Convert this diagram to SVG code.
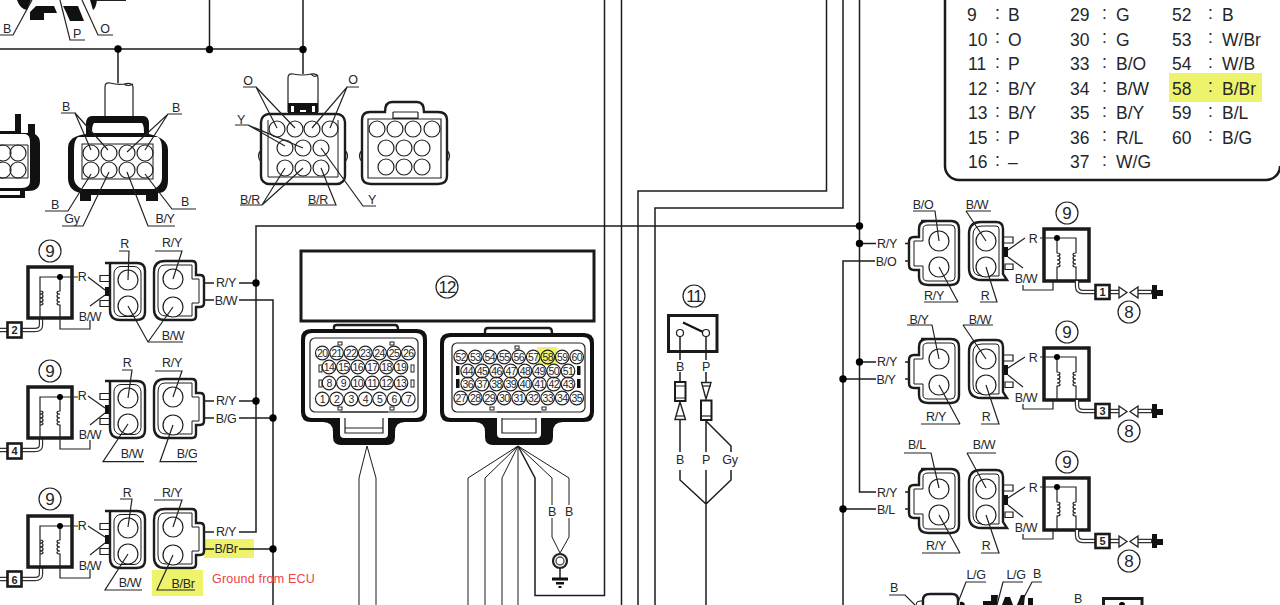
<svg xmlns="http://www.w3.org/2000/svg" xmlns:xlink="http://www.w3.org/1999/xlink" width="1280" height="605" viewBox="0 0 1280 605">
<style>
text{font-family:"Liberation Sans",Arial,sans-serif;fill:#26262a}
.l{font-size:12.5px;text-anchor:middle;letter-spacing:-.3px}
.c{font-size:17px;text-anchor:middle}
.n{font-size:11px;text-anchor:middle;font-weight:bold}
.p{font-size:10.5px;text-anchor:middle;letter-spacing:-.6px}
.tb{font-size:17.5px}
.w{fill:none;stroke:#1c1c1c;stroke-width:1.5}
.th{fill:none;stroke:#1c1c1c;stroke-width:1}
.t{fill:none;stroke:#222;stroke-width:1.2}
.b{fill:none;stroke:#1c1c1c;stroke-width:2.4}
.k{fill:#111;stroke:none}
.f{fill:#fff;stroke:#1c1c1c;stroke-width:1.2}
.bx{fill:#fff;stroke:#1a1a1a;stroke-width:3.5}
.sq{fill:#fff;stroke:#1a1a1a;stroke-width:2.6}
.d{fill:#000}
.hl{fill:#eef36c}
.dw{fill:none;stroke:#333;stroke-width:4.4}
.dwi{fill:none;stroke:#fff;stroke-width:2}
</style>
<defs>
<g id="coil">
<path class="t" stroke-width="1.4" d="M40,318V291c4,0 4,3 0,3c4,0 4,4 0,4c4,0 4,4 0,4c4,0 4,3 0,3M40,291V277H78M60,277V291c-4,0 -4,3 0,3c-4,0 -4,4 0,4c-4,0 -4,4 0,4c-4,0 -4,3 0,3V329H90V320"/>
<circle class="d" cx="60" cy="277" r="3"/>
</g>
<g id="lConn">
<path class="f" d="M100,275.500h10v6h-10zM100,300.500h10v6h-10z" stroke-width="1.8"/>
<rect class="k" x="105" y="287" width="6" height="9"/>
<path class="b" d="M105,263H137Q145,263 145,271V312Q145,320 137,320H120Q110,320 110,310V263"/>
<rect class="th" x="114" y="266.500" width="27" height="50" rx="7"/>
<circle class="f" cx="128" cy="280" r="10"/><circle class="f" cx="128" cy="306" r="10"/>
<path class="b" d="M165,261H192Q196,261 196,265V275H200Q204,275 204,279V303Q204,307 200,307H196V316Q196,320 192,320H165Q154,320 154,309V272Q154,261 165,261Z"/>
<path class="th" d="M165,265H192V279H199V303H192V316H166Q158,316 158,307V274Q158,265 165,265Z"/>
<circle class="f" cx="173" cy="279" r="10"/><circle class="f" cx="173" cy="307" r="10"/>
</g>
<g id="dbl">
<path class="dw" d="M41,318V325Q41,330 35,330H21M0,330H7"/>
<path class="dwi" d="M41,318V325Q41,330 35,330H21M0,330H7"/>
</g>
<g id="rConn">
<path class="b" d="M921,221H951Q959,221 959,229V277Q959,285 951,285H928Q919,285 919,277V270H914Q909,270 909,265V242Q909,237 914,237H919V229Q919,221 927,221Z"/>
<path class="th" d="M928,225H951Q955,225 955,229V277Q955,281 951,281H928Q923,281 923,277V266H914V241H923V229Q923,225 928,225Z"/>
<circle class="f" cx="939" cy="241" r="10"/><circle class="f" cx="939" cy="267" r="10"/>
<path class="f" d="M1003,237h10v6h-10zM1005,264h8v5.500h-8z" stroke-width="1.8"/>
<rect class="k" x="1002" y="247" width="6" height="10"/>
<path class="b" d="M981,222H996Q1003,222 1003,229V274L1007,280H981Q969,280 969,268V234Q969,222 981,222Z"/>
<path class="th" d="M982,226H996Q999,226 999,229V276H982Q973,276 973,267V235Q973,226 982,226Z"/>
<circle class="f" cx="986" cy="241" r="10"/><circle class="f" cx="986" cy="267" r="10"/>
</g>
<g id="rCoil">
<rect class="bx" x="1044" y="229" width="45" height="52"/>
<path class="t" d="M1040,238H1076V253c-4,0 -4,3 0,3c-4,0 -4,4 0,4c-4,0 -4,4 0,4c-4,0 -4,3 0,3V281M1057,238V253c4,0 4,3 0,3c4,0 4,4 0,4c4,0 4,4 0,4c4,0 4,3 0,3V281M1053,281V290H1023V285"/>
<circle class="d" cx="1057" cy="238" r="3"/>
<path class="dw" d="M1077,281V286Q1077,292 1083,292H1096M1110,292H1121M1136,292H1152"/>
<path class="dwi" d="M1077,281V286Q1077,292 1083,292H1096M1110,292H1121M1136,292H1151"/>
<path d="M1119,287L1127,292.500L1119,298ZM1138,287L1130,292.500L1138,298Z" fill="#fff" stroke="#222" stroke-width="1.3"/>
<path class="k" d="M1152,285h5v5h6v6h-6v3h-5z"/>
<circle cx="1129" cy="312" r="11" fill="#fff" stroke="#222" stroke-width="1.2"/>
<text class="c" x="1129" y="318">8</text>
<circle cx="1067" cy="213" r="11" fill="#fff" stroke="#222" stroke-width="1.2"/>
<text class="c" x="1067" y="219">9</text>
</g>
</defs>

<rect id="hl-table" class="hl" x="1169" y="73" width="93" height="29"/>
<rect id="hl-pin58" class="hl" x="537" y="347" width="20" height="18"/>
<rect id="hl-wire" class="hl" x="204" y="539" width="50" height="19"/>
<rect id="hl-label" class="hl" x="152" y="570" width="51" height="26"/>

<g id="connectors">
<path class="w" d="M0,49H303M118,49V83M209.500,0V49M303,0V49V74"/>
<path class="w" d="M204,283H214M239,283H256M204,300H214M239,300H273V605"/>
<path class="w" d="M204,401H214M239,401H256M204,418H214M239,418H273"/>
<path class="w" d="M204,532H214M239,532H256V226H859M204,549H214M239,549H273"/>
<path class="w" d="M604.500,0V595.500H535V478L518,446M621.500,0V605M638,605V191H826.500V0M655,605V208H843V0M859.500,0V492H876M859.500,243.500H876M859.500,362H876M843,605V261H875M843,379H876M843,509H876"/>
<path class="th" d="M367,446L359,478V605M367,446L376,478V605M518,446L468,478V605M518,446L485,478V605M518,446L502,478V605M518,446V605M518,446L552,478V505M518,446L569,478V505M552,518V537L560,553M569,518V537L560,553"/>
<path class="w" d="M680,336V360M680,372V382M680,420V452M680,470V480L706,504M706,336V360M706,372V382M706,420V452M706,470V605M706,421L731,446V452M731,470V480L706,504"/>
<path class="w" d="M905,243.500H909M905,261H909M905,362H909M905,379H909M905,492H909M905,509H909"/>
</g>
<g id="junctions">
<circle class="d" cx="118" cy="49" r="3.700"/><circle class="d" cx="209.500" cy="49.500" r="3.700"/><circle class="d" cx="303" cy="49.500" r="3.700"/>
<circle class="d" cx="256" cy="283" r="3.700"/><circle class="d" cx="256" cy="401" r="3.700"/><circle class="d" cx="273" cy="418" r="3.700"/><circle class="d" cx="273" cy="549" r="3.700"/>
<circle class="d" cx="859.500" cy="226" r="3.700"/><circle class="d" cx="859.500" cy="243.500" r="3.700"/><circle class="d" cx="859.500" cy="362" r="3.700"/><circle class="d" cx="843" cy="379" r="3.700"/><circle class="d" cx="843" cy="509" r="3.700"/>
</g>

<g id="top-partial">
<path class="k" d="M17,0H31L27,10Q20,9 17,0ZM30,21V12L36,6H54L57,13H44V20H30ZM63,6H78L84,21H70L66,12ZM90,0H97Q96,8 93,10Z"/>
<path class="t" d="M96,0.500H126M0,35H13L32,0M60,0L70,40H85M82,0L98,35H113"/>
<text class="l" x="7" y="33">B</text><text class="l" x="77" y="38">P</text><text class="l" x="105" y="33">O</text>
</g>

<g id="conn-partial-left">
<path class="k" d="M15,114h6v19h7v-9h7v10q5,3 5,9v38q0,10 -12,10h-3v7h-25v-3h20v-4h-20v-3h22q8,0 8,-7v-40q0,-6 -5,-7h-25v-3h15z"/>
<path class="th" d="M0,145H28V178H0"/>
<g class="t"><circle cx="3" cy="153" r="8"/><circle cx="18" cy="153" r="8"/><circle cx="3" cy="170" r="8"/><circle cx="18" cy="170" r="8"/></g>
</g>

<g id="conn-a">
<path class="t" fill="none" d="M105,116V87Q105,82 110,83Q118,85 124,84Q133,82 133,87V116M124,84Q128,87 133,84"/>
<path class="k" d="M92,116H143Q149,116 149,124V134Q168,138 168,150V180Q168,193 158,193V201H146V195H91V201H80V193Q68,190 68,178V148Q68,136 86,134V124Q86,116 92,116ZM94,123Q92,125 92,133H144Q144,125 142,123ZM78,137Q74,140 74,150V178Q74,185 82,189H154Q162,185 162,178V150Q162,140 158,137Z"/>
<rect class="th" x="82" y="144" width="71" height="35"/>
<g class="t"><circle cx="91" cy="153" r="8"/><circle cx="109" cy="153" r="8"/><circle cx="127" cy="153" r="8"/><circle cx="145" cy="153" r="8"/><circle cx="91" cy="170" r="8"/><circle cx="109" cy="170" r="8"/><circle cx="127" cy="170" r="8"/><circle cx="145" cy="170" r="8"/></g>
<path class="t" d="M61,113H75L91,150M75,113L108,150M182,114H168L127,152M168,114L145,150M45,211H68L91,174M62,226H83L109,172M175,226H148L127,172M196,209H172L145,174"/>
<text class="l" x="66" y="111">B</text><text class="l" x="176" y="112">B</text><text class="l" x="55" y="209">B</text><text class="l" x="72" y="223">Gy</text><text class="l" x="165" y="223">B/Y</text><text class="l" x="185" y="206">B</text>
</g>

<g id="conn-b">
<path class="t" d="M288,112V78Q288,73 293,74Q303,76 311,74Q318,73 318,78V112M311,74Q314,78 318,75"/>
<path class="k" d="M288,103H318V114H288ZM291,106V112H294V106ZM312,106V112H315V106ZM300,110V112H306V110Z"/>
<rect class="b" x="261" y="114" width="84" height="70" rx="8"/>
<path class="th" d="M268,120V177H338V120"/>
<path class="t" d="M261,150Q256,156 261,162M345,150Q350,156 345,162"/>
<g class="t"><circle cx="277" cy="129" r="8"/><circle cx="295" cy="129" r="8"/><circle cx="312" cy="129" r="8"/><circle cx="330" cy="129" r="8"/><circle cx="285" cy="148" r="8"/><circle cx="303" cy="148" r="8"/><circle cx="321" cy="148" r="8"/><circle cx="285" cy="168" r="8"/><circle cx="303" cy="168" r="8"/><circle cx="321" cy="168" r="8"/></g>
<path class="t" d="M243,87H256L277,128M256,87L295,128M359,87H347L312,128M347,87L330,128M235,125H248L285,146M248,125L303,148M240,205H262L285,168M262,205L303,168M308,205H336L321,168M376,206H363L321,148"/>
<text class="l" x="248" y="85">O</text><text class="l" x="353" y="84">O</text><text class="l" x="241" y="124">Y</text><text class="l" x="250" y="204">B/R</text><text class="l" x="318" y="204">B/R</text><text class="l" x="372" y="204">Y</text>
</g>

<g id="conn-c">
<path class="b" d="M370,112H385Q385,102 392,102H417Q424,102 424,112H438Q447,112 447,120V176Q447,184 438,184H371Q362,184 362,176V120Q362,112 370,112Z"/>
<path class="t" d="M368,119V178H441V119ZM393,112V118H418V112M393,112H418"/>
<path class="t" d="M362,150Q357,156 362,162M447,150Q452,156 447,162"/>
<g class="t"><circle cx="377" cy="129" r="8"/><circle cx="395" cy="129" r="8"/><circle cx="413" cy="129" r="8"/><circle cx="432" cy="129" r="8"/><circle cx="386" cy="148" r="8"/><circle cx="404" cy="148" r="8"/><circle cx="422" cy="148" r="8"/><circle cx="386" cy="167" r="8"/><circle cx="404" cy="167" r="8"/><circle cx="422" cy="167" r="8"/></g>
</g>

<g id="coil-left-1">
<use href="#dbl"/>
<rect class="bx" x="28" y="267" width="44" height="51"/>
<use href="#coil"/><use href="#lConn"/>
<rect class="sq" x="7.500" y="322.500" width="14" height="15"/><text class="n" x="14.500" y="334">2</text>
<circle cx="50" cy="251" r="11" fill="#fff" stroke="#222" stroke-width="1.2"/><text class="c" x="50" y="257">9</text>
<path class="t" d="M88,277L105,290M90,306L105,295M119,251H129L128,280M155,251H182L173,279M128,306L148,342H183M173,307L148,342"/>
<text class="l" x="82" y="281">R</text><text class="l" x="90" y="321">B/W</text><text class="l" x="124.500" y="248">R</text><text class="l" x="172" y="247">R/Y</text><text class="l" x="173" y="340">B/W</text><text class="l" x="226" y="287">R/Y</text><text class="l" x="226" y="305">B/W</text>
</g>

<g id="coil-left-2">
<g transform="translate(0,120)"><use href="#dbl"/><rect class="bx" x="28" y="267" width="44" height="51"/><use href="#coil"/></g>
<use href="#lConn" y="118"/>
<rect class="sq" x="7.500" y="443.500" width="14" height="15"/><text class="n" x="14.500" y="455">4</text>
<circle cx="50" cy="371" r="11" fill="#fff" stroke="#222" stroke-width="1.2"/><text class="c" x="50" y="377">9</text>
<path class="t" d="M88,396L105,408M90,425L105,413M122,370H132L128,398M155,371H182L173,397M128,424L103,461.700H144M173,425L160,461.700H197"/>
<text class="l" x="82" y="400">R</text><text class="l" x="90" y="439">B/W</text><text class="l" x="127" y="367">R</text><text class="l" x="172" y="367">R/Y</text><text class="l" x="132" y="458">B/W</text><text class="l" x="187" y="458">B/G</text><text class="l" x="226" y="405">R/Y</text><text class="l" x="226" y="423">B/G</text>
</g>

<g id="coil-left-3">
<g transform="translate(0,249)"><use href="#dbl"/><rect class="bx" x="28" y="267" width="44" height="51"/><use href="#coil"/></g>
<use href="#lConn" y="248"/>
<rect class="sq" x="7.500" y="571.500" width="14" height="15"/><text class="n" x="14.500" y="584">6</text>
<circle cx="50" cy="499" r="11" fill="#fff" stroke="#222" stroke-width="1.2"/><text class="c" x="50" y="505">9</text>
<path class="t" d="M88,526L105,537M90,555L105,543M120,499H132L128,527M154,500H182L173,527M128,554L105,590H142M173,555L157,590H195"/>
<text class="l" x="82" y="530">R</text><text class="l" x="90" y="570">B/W</text><text class="l" x="127" y="497">R</text><text class="l" x="172" y="497">R/Y</text><text class="l" x="130" y="587">B/W</text><text class="l" x="183" y="588">B/Br</text><text class="l" x="226" y="536">R/Y</text><text class="l" x="226" y="553">B/Br</text>
<text x="212" y="583" font-size="12.500" letter-spacing=".2" style="fill:#f0414a">Ground from ECU</text>
</g>

<g id="ecu">
<rect x="301" y="251" width="293" height="70" fill="#fff" stroke="#1a1a1a" stroke-width="3"/>
<circle cx="447" cy="287" r="11" fill="#fff" stroke="#222" stroke-width="1.2"/><text class="c" x="447" y="293" letter-spacing="-1">12</text>
</g>

<g id="ecu-conn-left">
<path class="b" d="M334,329V327Q334,325 337,325H395Q398,325 398,329"/>
<path class="k" d="M311,329H417Q427,329 427,339V412Q427,422 417,422H405Q395,422 395,432V437Q395,445 387,445H341Q333,445 333,437V432Q333,422 323,422H311Q301,422 301,412V339Q301,329 311,329ZM312,333Q305,333 305,340V411Q305,418 312,418H340V434Q340,438 344,438H384Q388,438 388,434V418H416Q423,418 423,411V340Q423,333 416,333Z"/>
<rect class="t" x="310" y="338" width="108" height="74" rx="5"/>
<path class="t" d="M340,412H388M345,418V433H383V418M345,428H383"/>
<g fill="#fff" stroke="#222"><rect x="319" y="365" width="3" height="7"/><rect x="319" y="380" width="3" height="7"/><rect x="411" y="365" width="3" height="7"/><rect x="411" y="380" width="3" height="7"/><rect x="338" y="342" width="4" height="3"/><rect x="390" y="342" width="4" height="3"/><rect x="338" y="407" width="4" height="3"/><rect x="390" y="407" width="4" height="3"/></g>
<g class="t"><circle cx="322.300" cy="353" r="6.800"/><circle cx="336.600" cy="353" r="6.800"/><circle cx="351" cy="353" r="6.800"/><circle cx="365.300" cy="353" r="6.800"/><circle cx="379.600" cy="353" r="6.800"/><circle cx="394" cy="353" r="6.800"/><circle cx="408.300" cy="353" r="6.800"/><circle cx="329" cy="367" r="6.800"/><circle cx="343.400" cy="367" r="6.800"/><circle cx="357.800" cy="367" r="6.800"/><circle cx="372.200" cy="367" r="6.800"/><circle cx="386.600" cy="367" r="6.800"/><circle cx="401" cy="367" r="6.800"/><circle cx="329" cy="383" r="6.800"/><circle cx="343.400" cy="383" r="6.800"/><circle cx="357.800" cy="383" r="6.800"/><circle cx="372.200" cy="383" r="6.800"/><circle cx="386.600" cy="383" r="6.800"/><circle cx="401" cy="383" r="6.800"/><circle cx="322.300" cy="399" r="6.800"/><circle cx="336.600" cy="399" r="6.800"/><circle cx="351" cy="399" r="6.800"/><circle cx="365.300" cy="399" r="6.800"/><circle cx="379.600" cy="399" r="6.800"/><circle cx="394" cy="399" r="6.800"/><circle cx="408.300" cy="399" r="6.800"/></g>
<g class="p">
<text x="322.300" y="357">20</text><text x="336.600" y="357">21</text><text x="351" y="357">22</text><text x="365.300" y="357">23</text><text x="379.600" y="357">24</text><text x="394" y="357">25</text><text x="408.300" y="357">26</text>
<text x="329" y="371">14</text><text x="343.400" y="371">15</text><text x="357.800" y="371">16</text><text x="372.200" y="371">17</text><text x="386.600" y="371">18</text><text x="401" y="371">19</text>
<text x="329" y="387">8</text><text x="343.400" y="387">9</text><text x="357.800" y="387">10</text><text x="372.200" y="387">11</text><text x="386.600" y="387">12</text><text x="401" y="387">13</text>
<text x="322.300" y="403">1</text><text x="336.600" y="403">2</text><text x="351" y="403">3</text><text x="365.300" y="403">4</text><text x="379.600" y="403">5</text><text x="394" y="403">6</text><text x="408.300" y="403">7</text>
</g>
</g>

<g id="ecu-conn-right">
<path class="b" d="M485,333V331Q485,328 488,328H549Q552,328 552,333"/>
<path class="k" d="M450,333H584Q594,333 594,343V412Q594,422 584,422H563Q553,422 553,432V437Q553,445 545,445H493Q485,445 485,437V432Q485,422 475,422H450Q440,422 440,412V343Q440,333 450,333ZM451,337Q444,337 444,344V411Q444,418 451,418H497V434Q497,438 501,438H537Q541,438 541,434V418H583Q590,418 590,411V344Q590,337 583,337Z"/>
<rect class="t" x="452" y="343" width="133" height="69" rx="5"/>
<path class="t" d="M497,412H541M502,418V433H536V418M502,419H536"/>
<g fill="#111"><rect x="456" y="366" width="3.500" height="9"/><rect x="456" y="379" width="3.500" height="9"/><rect x="577" y="366" width="3.500" height="9"/><rect x="577" y="379" width="3.500" height="9"/></g>
<g fill="#fff" stroke="#222"><rect x="515" y="346" width="4" height="3"/><rect x="490" y="407" width="4" height="3"/><rect x="542" y="407" width="4" height="3"/></g>
<g class="t"><circle cx="460.700" cy="357" r="6.800"/><circle cx="475.200" cy="357" r="6.800"/><circle cx="489.700" cy="357" r="6.800"/><circle cx="504.200" cy="357" r="6.800"/><circle cx="518.700" cy="357" r="6.800"/><circle cx="533.200" cy="357" r="6.800"/><circle cx="547.700" cy="357" r="6.800"/><circle cx="562.200" cy="357" r="6.800"/><circle cx="576.700" cy="357" r="6.800"/><circle cx="467.700" cy="371" r="6.800"/><circle cx="482" cy="371" r="6.800"/><circle cx="496.400" cy="371" r="6.800"/><circle cx="510.700" cy="371" r="6.800"/><circle cx="525" cy="371" r="6.800"/><circle cx="539.400" cy="371" r="6.800"/><circle cx="553.700" cy="371" r="6.800"/><circle cx="568" cy="371" r="6.800"/><circle cx="467.700" cy="384" r="6.800"/><circle cx="482" cy="384" r="6.800"/><circle cx="496.400" cy="384" r="6.800"/><circle cx="510.700" cy="384" r="6.800"/><circle cx="525" cy="384" r="6.800"/><circle cx="539.400" cy="384" r="6.800"/><circle cx="553.700" cy="384" r="6.800"/><circle cx="568" cy="384" r="6.800"/><circle cx="460.700" cy="398" r="6.800"/><circle cx="475.200" cy="398" r="6.800"/><circle cx="489.700" cy="398" r="6.800"/><circle cx="504.200" cy="398" r="6.800"/><circle cx="518.700" cy="398" r="6.800"/><circle cx="533.200" cy="398" r="6.800"/><circle cx="547.700" cy="398" r="6.800"/><circle cx="562.200" cy="398" r="6.800"/><circle cx="576.700" cy="398" r="6.800"/></g>
<g class="p">
<text x="460.700" y="361">52</text><text x="475.200" y="361">53</text><text x="489.700" y="361">54</text><text x="504.200" y="361">55</text><text x="518.700" y="361">56</text><text x="533.200" y="361">57</text><text x="547.700" y="361">58</text><text x="562.200" y="361">59</text><text x="576.700" y="361">60</text>
<text x="467.700" y="375">44</text><text x="482" y="375">45</text><text x="496.400" y="375">46</text><text x="510.700" y="375">47</text><text x="525" y="375">48</text><text x="539.400" y="375">49</text><text x="553.700" y="375">50</text><text x="568" y="375">51</text>
<text x="467.700" y="388">36</text><text x="482" y="388">37</text><text x="496.400" y="388">38</text><text x="510.700" y="388">39</text><text x="525" y="388">40</text><text x="539.400" y="388">41</text><text x="553.700" y="388">42</text><text x="568" y="388">43</text>
<text x="460.700" y="402">27</text><text x="475.200" y="402">28</text><text x="489.700" y="402">29</text><text x="504.200" y="402">30</text><text x="518.700" y="402">31</text><text x="533.200" y="402">32</text><text x="547.700" y="402">33</text><text x="562.200" y="402">34</text><text x="576.700" y="402">35</text>
</g>
</g>

<g id="ground">
<circle cx="560" cy="561" r="7" fill="#fff" stroke="#222" stroke-width="2.2"/><circle cx="560" cy="561" r="4" fill="#fff" stroke="#555" stroke-width="1.4"/>
<path class="w" d="M560,568V580"/><path class="k" d="M552,577.500h16v3h-16zM556,582h8v2.500h-8zM558.500,586h3v2h-3z"/>
<text class="l" x="552" y="516">B</text><text class="l" x="569" y="516">B</text>
</g>

<g id="switch">
<circle cx="694" cy="296" r="11" fill="#fff" stroke="#222" stroke-width="1.2"/><text class="c" x="694" y="302" letter-spacing="-1">11</text>
<rect x="668.500" y="315.500" width="48.500" height="36" fill="#fff" stroke="#1a1a1a" stroke-width="3"/>
<path d="M683,322.500L703,332" stroke="#111" stroke-width="2.200" fill="none"/>
<path class="w" d="M680,336V352M706,336V352"/>
<circle class="f" cx="680" cy="333" r="3.500"/><circle class="f" cx="706" cy="333" r="3.500"/>
<rect x="675" y="382" width="10.500" height="19" fill="#fff" stroke="#1a1a1a" stroke-width="2"/><path class="t" d="M675,386H685M675,398H685"/>
<path d="M680,402L675,419.500H685.500Z" fill="#fff" stroke="#222" stroke-width="1.4"/><path class="t" d="M676,416H685"/>
<rect x="701" y="400.500" width="10.500" height="19.500" fill="#fff" stroke="#1a1a1a" stroke-width="2"/><path class="t" d="M701,416H711"/>
<path d="M701.500,382.500H711L706,399Z" fill="#fff" stroke="#222" stroke-width="1.4"/><path class="t" d="M702,386H711"/>
<text class="l" x="680" y="371">B</text><text class="l" x="706" y="371">P</text><text class="l" x="680" y="464">B</text><text class="l" x="706" y="464">P</text><text class="l" x="730" y="464">Gy</text>
</g>

<g id="coil-right-1">
<use href="#rConn"/><use href="#rCoil"/>
<rect class="sq" x="1095.500" y="285" width="14" height="14"/><text class="n" x="1102.500" y="296">1</text>
<path class="t" d="M913,211H935L939,241M966,211H991M966,211L986,241M958,302H924M958,302L939,267M980,302H997L986,267M1008,250L1025,238M1008,257L1023,268"/>
<text class="l" x="923" y="209">B/O</text><text class="l" x="977" y="209">B/W</text><text class="l" x="934" y="300">R/Y</text><text class="l" x="985" y="300">R</text><text class="l" x="1033" y="243">R</text><text class="l" x="1026" y="283">B/W</text><text class="l" x="887" y="248">R/Y</text><text class="l" x="886" y="266">B/O</text>
</g>

<g id="coil-right-2">
<use href="#rConn" y="118"/><use href="#rCoil" y="119"/>
<rect class="sq" x="1095.500" y="404" width="14" height="14"/><text class="n" x="1102.500" y="415">3</text>
<path class="t" d="M907,325H932L939,359M963,325H993M963,325L986,359M960,424H921M960,424L939,385M981,424H999L986,385M1008,368L1025,357M1008,375L1023,387"/>
<text class="l" x="919" y="324">B/Y</text><text class="l" x="980" y="324">B/W</text><text class="l" x="936" y="421">R/Y</text><text class="l" x="986" y="421">R</text><text class="l" x="1033" y="362">R</text><text class="l" x="1026" y="402">B/W</text><text class="l" x="887" y="366">R/Y</text><text class="l" x="886" y="384">B/Y</text>
</g>

<g id="coil-right-3">
<use href="#rConn" y="248"/><use href="#rCoil" y="249"/>
<rect class="sq" x="1095.500" y="534" width="14" height="14"/><text class="n" x="1102.500" y="545">5</text>
<path class="t" d="M904,453H931L939,488M967,453H996M967,453L986,488M960,553H922M960,553L939,515M981,553H999L986,515M1008,498L1025,487M1008,505L1023,517"/>
<text class="l" x="917" y="449">B/L</text><text class="l" x="984" y="449">B/W</text><text class="l" x="936" y="550">R/Y</text><text class="l" x="986" y="550">R</text><text class="l" x="1033" y="492">R</text><text class="l" x="1026" y="532">B/W</text><text class="l" x="887" y="497">R/Y</text><text class="l" x="886" y="514">B/L</text>
</g>

<g id="bottom-partial">
<path class="t" d="M889,595H905L915,605"/>
<path class="b" d="M923,605V600Q923,594 930,594H952Q958,594 958,600V605"/>
<path class="th" d="M916,605Q916,601 920,601H924"/>
<path class="k" d="M983,605V601H991V595H998L997,605ZM1002,605L1005,597H1010L1013,605ZM1017,605L1021,595H1025L1024,605ZM1028,605V598H1033V605ZM960,602Q964,601 965,605H960Z"/>
<path class="t" d="M986,582H966L957,605M1023,582H1003L997,605M1042,582H1032L1020,605"/>
<text class="l" x="894" y="592">B</text><text class="l" x="976" y="579">L/G</text><text class="l" x="1016" y="579">L/G</text><text class="l" x="1037" y="578">B</text><text class="l" x="1078" y="603">B</text>
<path d="M1103.500,605V598.500H1142V605" fill="none" stroke="#1a1a1a" stroke-width="3"/>
<circle class="d" cx="1122" cy="605" r="3"/>
</g>

<g id="color-table">
<path d="M945,0V166A14,14 0 0 0 959,180H1266A14,14 0 0 0 1280,166" fill="none" stroke="#1a1a1a" stroke-width="2.500"/>
<g class="tb">
<text x="967" y="21">9</text><text x="995" y="19">:</text><text x="1008" y="21">B</text>
<text x="968" y="46">10</text><text x="995" y="43">:</text><text x="1008" y="46">O</text>
<text x="968" y="70">11</text><text x="995" y="68">:</text><text x="1008" y="70">P</text>
<text x="968" y="95">12</text><text x="995" y="92">:</text><text x="1008" y="95">B/Y</text>
<text x="968" y="119">13</text><text x="995" y="117">:</text><text x="1008" y="119">B/Y</text>
<text x="968" y="144">15</text><text x="995" y="141">:</text><text x="1008" y="144">P</text>
<text x="968" y="168">16</text><text x="995" y="166">:</text><text x="1008" y="168">–</text>
<text x="1070" y="21">29</text><text x="1102" y="19">:</text><text x="1116" y="21">G</text>
<text x="1070" y="46">30</text><text x="1102" y="43">:</text><text x="1116" y="46">G</text>
<text x="1070" y="70">33</text><text x="1102" y="68">:</text><text x="1116" y="70">B/O</text>
<text x="1070" y="95">34</text><text x="1102" y="92">:</text><text x="1116" y="95">B/W</text>
<text x="1070" y="119">35</text><text x="1102" y="117">:</text><text x="1116" y="119">B/Y</text>
<text x="1070" y="144">36</text><text x="1102" y="141">:</text><text x="1116" y="144">R/L</text>
<text x="1070" y="168">37</text><text x="1102" y="166">:</text><text x="1116" y="168">W/G</text>
<text x="1172" y="21">52</text><text x="1208" y="19">:</text><text x="1222" y="21">B</text>
<text x="1172" y="46">53</text><text x="1208" y="43">:</text><text x="1222" y="46">W/Br</text>
<text x="1172" y="70">54</text><text x="1208" y="68">:</text><text x="1222" y="70">W/B</text>
<text x="1172" y="95">58</text><text x="1208" y="92">:</text><text x="1222" y="95">B/Br</text>
<text x="1172" y="119">59</text><text x="1208" y="117">:</text><text x="1222" y="119">B/L</text>
<text x="1172" y="144">60</text><text x="1208" y="141">:</text><text x="1222" y="144">B/G</text>
</g>
</g>
</svg>
